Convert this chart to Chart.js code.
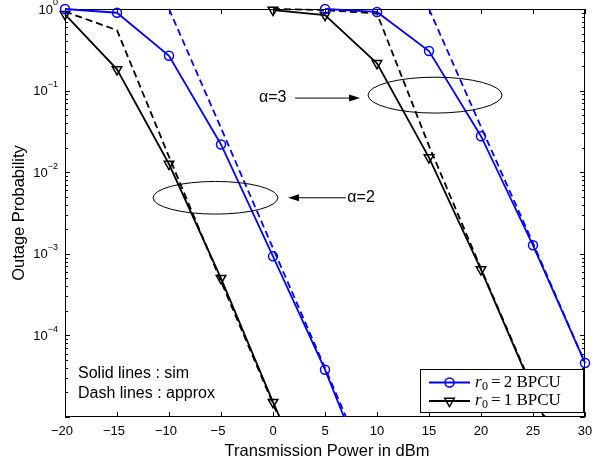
<!DOCTYPE html>
<html>
<head>
<meta charset="utf-8">
<script src="https://cdn.jsdelivr.net/npm/chart.js@4.4.0/dist/chart.umd.min.js"></script>
<style>
  html, body { margin: 0; padding: 0; background: #fff; }
  canvas { display: block; }
</style>
</head>
<body>
<canvas id="grafico-outage" width="592" height="464"></canvas>
<script>
// ==================== DATOS ====================
const potencias = [-20, -15, -10, -5, 0, 5, 10, 15, 20, 25, 30];   // dBm
// alpha = 2
const simR2a2   = [1.0, 0.90, 0.267, 0.0219, 9.3e-4, 3.8e-5, 9.8e-7, null, null, null, null];
const aproxR2a2 = [null, null, 1.0, 0.0348, 1.17e-3, 4.0e-5, 1.3e-6, null, null, null, null];
const simR1a2   = [0.86, 0.182, 0.0126, 5.0e-4, 1.52e-5, 5.6e-7, null, null, null, null, null];
const aproxR1a2 = [0.93, 0.55, 0.0155, 4.6e-4, 1.45e-5, 4.8e-7, null, null, null, null, null];
// alpha = 3
const simR2a3   = [null, null, null, null, null, 1.0, 0.92, 0.305, 0.0276, 1.27e-3, 4.6e-5];
const aproxR2a3 = [null, null, null, null, null, null, null, 1.0, 0.036, 1.35e-3, 4.6e-5];
const simR1a3   = [null, null, null, null, 0.97, 0.84, 0.216, 0.0151, 6.4e-4, 2.1e-5, 6.0e-7];
const aproxR1a3 = [null, null, null, null, 1.0, 0.97, 0.88, 0.021, 6.6e-4, 2.2e-5, 7.0e-7];

const ticksX = [-20, -15, -10, -5, 0, 5, 10, 15, 20, 25, 30];
const exponentesY = [0, -1, -2, -3, -4];
const leyenda = [
    { r: '2', color: '#0000ff', marca: 'circulo' },
    { r: '1', color: '#000000', marca: 'triangulo' }
];

const AZUL = '#0000ff';
const NEGRO = '#000000';
const SANS = '"Liberation Sans", Arial, Helvetica, sans-serif';
const SERIF = '"Liberation Serif", "Times New Roman", serif';

function puntos(arr) {
    return potencias.map((p, i) => ({ x: p, y: arr[i] })).filter(d => d.y !== null);
}

function serie(arr, color, discontinua, marca) {
    return {
        data: puntos(arr),
        borderColor: color,
        borderWidth: 1.8,
        borderDash: discontinua ? [7, 4] : [],
        pointRadius: marca ? (marca === 'triangle' ? 5.5 : 4.5) : 0,
        pointStyle: marca || 'circle',
        pointRotation: marca === 'triangle' ? 180 : 0,
        pointBorderColor: color,
        pointBackgroundColor: 'rgba(0,0,0,0)',
        pointBorderWidth: 1.5,
        tension: 0,
        clip: { left: 6, right: 6, top: 6, bottom: 0 }
    };
}

// ==================== EJES ESTILO MATLAB ====================
const ejesMatlab = {
    id: 'ejesMatlab',
    beforeDatasetsDraw(chart) {
        const { ctx, chartArea: ca, scales: { x, y } } = chart;
        ctx.save();
        ctx.strokeStyle = NEGRO;
        ctx.lineWidth = 1;
        ctx.beginPath();
        ticksX.forEach(t => {
            const px = Math.round(x.getPixelForValue(t)) + 0.5;
            ctx.moveTo(px, ca.bottom); ctx.lineTo(px, ca.bottom - 5);
            ctx.moveTo(px, ca.top); ctx.lineTo(px, ca.top + 5);
        });
        for (let e = -5; e <= 0; e++) {
            for (let m = 1; m <= 9; m++) {
                const v = m * Math.pow(10, e);
                if (v > 1.0001 || v < 0.9999e-5) continue;
                const py = Math.round(y.getPixelForValue(v)) + 0.5;
                const largo = m === 1 ? 5 : 3;
                ctx.moveTo(ca.left, py); ctx.lineTo(ca.left + largo, py);
                ctx.moveTo(ca.right, py); ctx.lineTo(ca.right - largo, py);
            }
        }
        ctx.stroke();
        ctx.strokeRect(ca.left + 0.5, ca.top + 0.5, ca.width - 1, ca.height - 1);

        // etiquetas del eje x
        ctx.fillStyle = NEGRO;
        ctx.font = '13px ' + SANS;
        ctx.textAlign = 'center';
        ctx.textBaseline = 'middle';
        ticksX.forEach(t => {
            const txt = t < 0 ? '\u2212' + Math.abs(t) : String(t);
            ctx.fillText(txt, x.getPixelForValue(t) - (t < 0 ? 3 : 0), ca.bottom + 14);
        });

        // etiquetas del eje y (10^n)
        exponentesY.forEach(e => {
            const py = y.getPixelForValue(Math.pow(10, e));
            const sup = e < 0 ? '\u2212' + Math.abs(e) : String(e);
            ctx.font = '9px ' + SANS;
            const wSup = ctx.measureText(sup).width;
            ctx.textAlign = 'right';
            ctx.fillText(sup, ca.left - 7, py - 6);
            ctx.font = '13px ' + SANS;
            ctx.fillText('10', ca.left - 7 - wSup, py + 1);
        });

        // titulos de ejes
        ctx.font = '16.5px ' + SANS;
        ctx.textAlign = 'center';
        ctx.fillText('Transmission Power in dBm', (ca.left + ca.right) / 2 + 2, ca.bottom + 34);
        ctx.save();
        ctx.translate(19, (ca.top + ca.bottom) / 2);
        ctx.rotate(-Math.PI / 2);
        ctx.fillText('Outage Probability', 0, 0);
        ctx.restore();
        ctx.restore();
    },
    afterDatasetsDraw(chart) {
        const { ctx, chartArea: ca, scales: { x, y } } = chart;
        const P = (dB, v) => [x.getPixelForValue(dB), y.getPixelForValue(v)];
        ctx.save();
        ctx.strokeStyle = NEGRO;
        ctx.fillStyle = NEGRO;
        ctx.lineWidth = 1;

        // elipses
        const elipse = (dB, v, rdB, rDec) => {
            const [cx, cy] = P(dB, v);
            const rx = x.getPixelForValue(dB + rdB) - cx;
            const ry = cy - y.getPixelForValue(v * Math.pow(10, rDec));
            ctx.beginPath();
            ctx.ellipse(cx, cy, rx, ry, 0, 0, Math.PI * 2);
            ctx.stroke();
        };
        elipse(-5.53, 4.86e-3, 6.0, 0.2);
        elipse(15.58, 0.088, 6.44, 0.22);

        // flechas
        const flecha = (dB1, dB2, v) => {
            const [x1, yy] = P(dB1, v);
            const [x2] = P(dB2, v);
            const dir = Math.sign(x2 - x1);
            ctx.beginPath();
            ctx.moveTo(x1, yy); ctx.lineTo(x2 - dir * 8, yy);
            ctx.stroke();
            ctx.beginPath();
            ctx.moveTo(x2, yy);
            ctx.lineTo(x2 - dir * 11, yy - 3.5);
            ctx.lineTo(x2 - dir * 11, yy + 3.5);
            ctx.closePath();
            ctx.fill();
        };
        flecha(2.12, 8.37, 0.081);
        flecha(7.0, 1.44, 4.86e-3);

        ctx.font = '16px ' + SANS;
        ctx.textAlign = 'left';
        ctx.textBaseline = 'middle';
        let [tx, ty] = P(-1.35, 0.081);
        ctx.fillText('\u03b1=3', tx, ty);
        [tx, ty] = P(7.15, 4.86e-3);
        ctx.fillText('\u03b1=2', tx, ty);

        ctx.font = '16px ' + SANS;
        ctx.fillText('Solid lines : sim', ca.left + 13, ca.bottom - 43);
        ctx.fillText('Dash lines : approx', ca.left + 13, ca.bottom - 23);

        // leyenda
        const lx = ca.right - 165, ly = ca.bottom - 48, lw = 164, lh = 44;
        ctx.fillStyle = '#fff';
        ctx.fillRect(lx, ly, lw, lh);
        ctx.strokeRect(lx + 0.5, ly + 0.5, lw - 1, lh - 1);
        leyenda.forEach((item, i) => {
            const cy = ly + 13.5 + i * 18.5;
            ctx.strokeStyle = item.color;
            ctx.lineWidth = 1.8;
            ctx.beginPath();
            ctx.moveTo(lx + 9, cy); ctx.lineTo(lx + 50, cy);
            ctx.stroke();
            ctx.lineWidth = 1.5;
            const mx = lx + 29.5;
            ctx.beginPath();
            if (item.marca === 'circulo') {
                ctx.arc(mx, cy, 4.5, 0, Math.PI * 2);
            } else {
                const r = 5.5;
                ctx.moveTo(mx, cy + r);
                ctx.lineTo(mx - r * 0.866, cy - r / 2);
                ctx.lineTo(mx + r * 0.866, cy - r / 2);
                ctx.closePath();
            }
            ctx.stroke();

            ctx.fillStyle = NEGRO;
            let tx = lx + 55;
            ctx.font = 'italic 17px ' + SERIF;
            ctx.fillText('r', tx, cy);
            tx += ctx.measureText('r').width + 0.5;
            ctx.font = '12px ' + SERIF;
            ctx.fillText('0', tx, cy + 4);
            tx += ctx.measureText('0').width + 3;
            ctx.font = '17px ' + SERIF;
            ctx.fillText('=', tx, cy);
            tx += ctx.measureText('=').width + 3;
            ctx.fillText(item.r + ' BPCU', tx, cy);
        });
        ctx.restore();
    }
};

// ==================== GRÁFICO ====================
const ctx = document.getElementById('grafico-outage').getContext('2d');
const graficoOutage = new Chart(ctx, {
    type: 'line',
    data: {
        datasets: [
            serie(simR2a2, AZUL, false, 'circle'),
            serie(aproxR2a2, AZUL, true, null),
            serie(simR1a2, NEGRO, false, 'triangle'),
            serie(aproxR1a2, NEGRO, true, null),
            serie(simR2a3, AZUL, false, 'circle'),
            serie(aproxR2a3, AZUL, true, null),
            serie(simR1a3, NEGRO, false, 'triangle'),
            serie(aproxR1a3, NEGRO, true, null)
        ]
    },
    options: {
        responsive: false,
        animation: false,
        events: [],
        layout: { padding: { left: 65, right: 7, top: 9, bottom: 47 } },
        plugins: { legend: { display: false }, tooltip: { enabled: false } },
        scales: {
            x: { type: 'linear', min: -20, max: 30, display: false },
            y: { type: 'logarithmic', min: 1e-5, max: 1, display: false }
        }
    },
    plugins: [ejesMatlab]
});
</script>
</body>
</html>
